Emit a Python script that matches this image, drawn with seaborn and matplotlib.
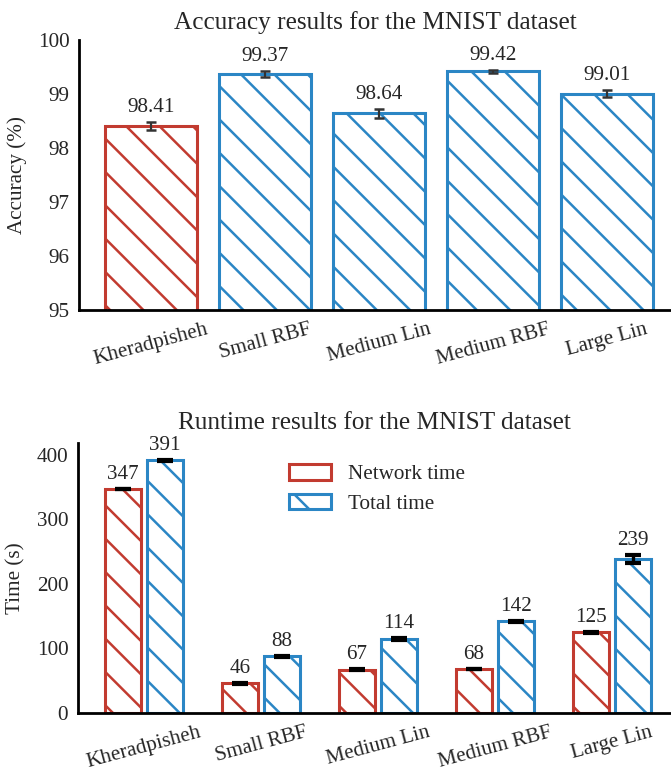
import pandas as pd
import seaborn as sns
import matplotlib.pyplot as plt
from matplotlib.patches import Patch

# values
models = ['Kheradpisheh', 'Small RBF', 'Medium Lin', 'Medium RBF', 'Large Lin']
accuracy = [98.41, 99.37, 98.64, 99.42, 99.01]
accuracy_err = [0.075, 0.05, 0.075, 0.03, 0.06]
network_time = [347, 46, 67, 68, 125]
network_err = [0.6, 0.6, 0.6, 0.6, 0.8]
total_time = [391, 88, 114, 142, 239]
total_err = [1.2, 1.0, 1.5, 1.0, 6.4]

red = '#c23b30'
blue = '#2b86c5'
hatch = '\\\\'

sns.set_style('white')
plt.rcParams['font.family'] = ['Liberation Serif', 'DejaVu Serif']
plt.rcParams['hatch.linewidth'] = 0.9

fs = 7.6

fig = plt.figure(figsize=(3.355, 3.86), dpi=200)
ax1 = fig.add_axes([0.1177, 0.5984, 0.8823, 0.3497])
ax2 = fig.add_axes([0.1162, 0.0764, 0.8838, 0.3497])

# Accuracy plot
acc_df = pd.DataFrame({'Model': models, 'Accuracy': accuracy})
sns.barplot(data=acc_df, x='Model', y='Accuracy', hue='Model',
            palette=[red] + [blue] * 4, fill=False, width=0.8,
            linewidth=1.1, errorbar=None, legend=False, ax=ax1)
for p in ax1.patches:
    p.set_hatch(hatch)
xs = [p.get_x() + p.get_width() / 2 for p in ax1.patches]
ax1.errorbar(xs, accuracy, yerr=accuracy_err, fmt='none', ecolor='#333333',
             elinewidth=0.8, capsize=1.7, capthick=0.9, zorder=5)
for x, v, e in zip(xs, accuracy, accuracy_err):
    ax1.annotate(f'{v:.2f}', (x, v + e), xytext=(0, 1.8), textcoords='offset points',
                 ha='center', va='bottom', fontsize=fs)
ax1.set_ylim(95, 100)
ax1.set_xlim(-0.632, 4.561)
ax1.set_title('Accuracy results for the MNIST dataset', fontsize=9.1, pad=4)
ax1.set_ylabel('Accuracy (%)', fontsize=fs)
ax1.set_xlabel('')

# Runtime plot
rt_df = pd.DataFrame({
    'Model': models * 2,
    'Kind': ['Network time'] * 5 + ['Total time'] * 5,
    'Time': network_time + total_time,
})
sns.barplot(data=rt_df, x='Model', y='Time', hue='Kind', palette=[red, blue],
            fill=False, width=0.72, gap=0.14, linewidth=1.1, errorbar=None,
            legend=False, ax=ax2)
bars = [p for p in ax2.patches if p.get_height() > 0]
for p in bars:
    p.set_hatch(hatch)
bx = sorted(bars, key=lambda p: p.get_x())
net_bars = bx[0::2]
tot_bars = bx[1::2]
for group, vals, errs in [(net_bars, network_time, network_err), (tot_bars, total_time, total_err)]:
    gx = [p.get_x() + p.get_width() / 2 for p in group]
    ax2.errorbar(gx, vals, yerr=errs, fmt='none', ecolor='black',
                 elinewidth=1.2, capsize=3.0, capthick=1.5, zorder=5)
    for x, v, e in zip(gx, vals, errs):
        ax2.annotate(f'{v}', (x, v + e), xytext=(0, 1.8), textcoords='offset points',
                     ha='center', va='bottom', fontsize=fs)
ax2.set_ylim(0, 418)
ax2.set_xlim(-0.564, 4.504)
ax2.set_yticks([0, 100, 200, 300, 400])
ax2.set_title('Runtime results for the MNIST dataset', fontsize=9.1, pad=5)
ax2.set_ylabel('Time (s)', fontsize=fs)
ax2.set_xlabel('')
handles = [Patch(facecolor='none', edgecolor=red, hatch='\\', linewidth=1.1),
           Patch(facecolor='none', edgecolor=blue, hatch='\\', linewidth=1.1)]
ax2.legend(handles, ['Network time', 'Total time'], frameon=False, fontsize=fs,
           loc='upper left', bbox_to_anchor=(0.338, 0.961), borderpad=0,
           handlelength=2.0, handleheight=0.75, handletextpad=0.8, labelspacing=0.45)

for ax in (ax1, ax2):
    sns.despine(ax=ax)
    for s in ('left', 'bottom'):
        ax.spines[s].set_color('black')
        ax.spines[s].set_linewidth(1.0)
    ax.tick_params(axis='both', length=0, labelsize=fs, pad=3.5)
    ax.tick_params(axis='x', rotation=15)
    ax.grid(False)

fig.savefig('out.png', dpi=200)
